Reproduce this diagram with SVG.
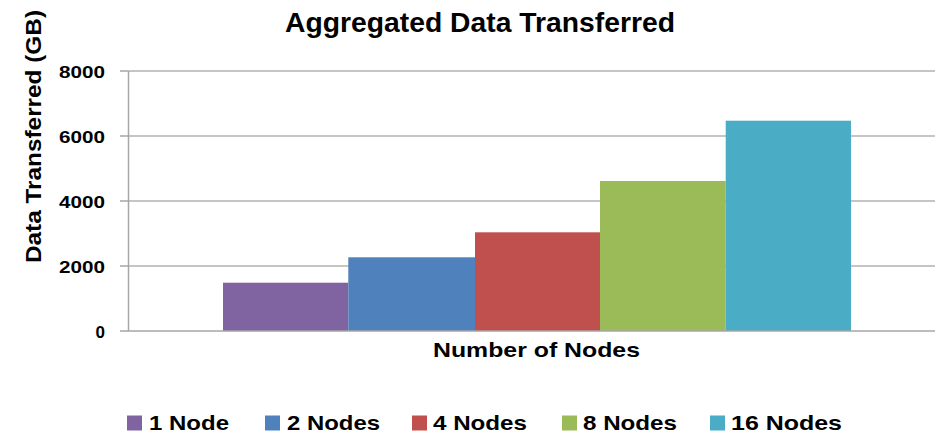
<svg xmlns="http://www.w3.org/2000/svg" width="938" height="434" viewBox="0 0 938 434">
<style>
  text { font-family: "Liberation Sans", Arial, sans-serif; font-weight: bold; fill: #000; }
  .grid { stroke: #B2B2B2; stroke-width: 1.5; fill: none; }
  .axis { stroke: #A6A6A6; stroke-width: 1.5; fill: none; }
  .tick { font-size: 17px; text-anchor: end; }
  .leg { font-size: 20.5px; }
</style>
<rect width="938" height="434" fill="#FFFFFF"/>
<g id="title"><text x="480" y="32" font-size="27" text-anchor="middle" textLength="390" lengthAdjust="spacingAndGlyphs">Aggregated Data Transferred</text></g>
<g id="grid">
  <line class="grid" x1="128.5" y1="71" x2="935" y2="71"/>
  <line class="grid" x1="128.5" y1="136" x2="935" y2="136"/>
  <line class="grid" x1="128.5" y1="201" x2="935" y2="201"/>
  <line class="grid" x1="128.5" y1="266" x2="935" y2="266"/>
</g>
<g id="bars">
  <rect id="bar-1" x="223" y="282.7" width="125.3" height="48.3" fill="#8064A2"/>
  <rect id="bar-2" x="348.3" y="257.3" width="126.7" height="73.7" fill="#4F81BD"/>
  <rect id="bar-4" x="475" y="232.3" width="125" height="98.7" fill="#C0504D"/>
  <rect id="bar-8" x="600" y="181" width="125.7" height="150" fill="#9BBB59"/>
  <rect id="bar-16" x="725.7" y="120.7" width="125.3" height="210.3" fill="#4BACC6"/>
</g>
<g id="axes">
  <line class="axis" x1="128.5" y1="71" x2="128.5" y2="331"/>
  <line class="axis" x1="120" y1="331" x2="935" y2="331"/>
  <line class="axis" x1="120" y1="71" x2="128.5" y2="71"/>
  <line class="axis" x1="120" y1="136" x2="128.5" y2="136"/>
  <line class="axis" x1="120" y1="201" x2="128.5" y2="201"/>
  <line class="axis" x1="120" y1="266" x2="128.5" y2="266"/>
</g>
<g id="ticks">
  <text class="tick" x="105" y="78" textLength="46" lengthAdjust="spacingAndGlyphs">8000</text>
  <text class="tick" x="105" y="143" textLength="46" lengthAdjust="spacingAndGlyphs">6000</text>
  <text class="tick" x="105" y="208" textLength="46" lengthAdjust="spacingAndGlyphs">4000</text>
  <text class="tick" x="105" y="273" textLength="46" lengthAdjust="spacingAndGlyphs">2000</text>
  <text class="tick" x="105" y="338">0</text>
</g>
<g id="y-title"><text transform="translate(41,136.5) rotate(-90)" font-size="22" text-anchor="middle" textLength="253" lengthAdjust="spacingAndGlyphs">Data Transferred (GB)</text></g>
<g id="x-title"><text x="536.5" y="357" font-size="21" text-anchor="middle" textLength="207" lengthAdjust="spacingAndGlyphs">Number of Nodes</text></g>
<g id="legend">
  <g id="leg-1"><rect x="127" y="415.5" width="15" height="15" fill="#8064A2"/><text class="leg" x="149" y="430" textLength="80" lengthAdjust="spacingAndGlyphs">1 Node</text></g>
  <g id="leg-2"><rect x="265" y="415.5" width="15" height="15" fill="#4F81BD"/><text class="leg" x="287" y="430" textLength="93" lengthAdjust="spacingAndGlyphs">2 Nodes</text></g>
  <g id="leg-4"><rect x="412" y="415.5" width="15" height="15" fill="#C0504D"/><text class="leg" x="433" y="430" textLength="94" lengthAdjust="spacingAndGlyphs">4 Nodes</text></g>
  <g id="leg-8"><rect x="562" y="415.5" width="15" height="15" fill="#9BBB59"/><text class="leg" x="583" y="430" textLength="94" lengthAdjust="spacingAndGlyphs">8 Nodes</text></g>
  <g id="leg-16"><rect x="710" y="415.5" width="15" height="15" fill="#4BACC6"/><text class="leg" x="731" y="430" textLength="111" lengthAdjust="spacingAndGlyphs">16 Nodes</text></g>
</g>
</svg>
